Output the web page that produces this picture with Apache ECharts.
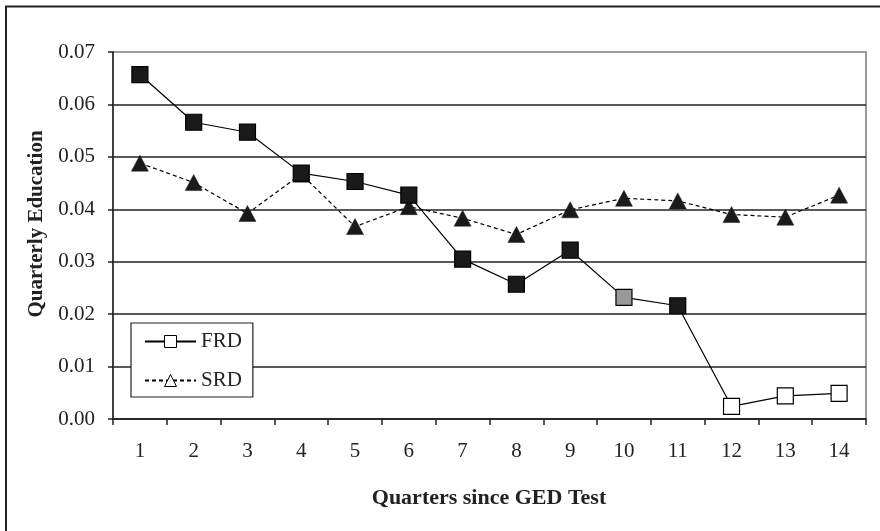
<!DOCTYPE html>
<html>
<head>
<meta charset="utf-8">
<title>Quarterly Education since GED Test</title>
<script src="https://cdn.jsdelivr.net/npm/echarts@6/dist/echarts.min.js"></script>
<style>
  html, body { margin: 0; padding: 0; background: #fff; }
  #chart { width: 880px; height: 531px; }
</style>
</head>
<body>
<div id="chart"></div>
<script>
// Quarters after the GED test
const quarters = ['1', '2', '3', '4', '5', '6', '7', '8', '9', '10', '11', '12', '13', '14'];

// Quarterly education, FRD estimates
const frdValues = [0.0657, 0.0566, 0.0547, 0.0469, 0.0453, 0.0427, 0.0305, 0.0257, 0.0322, 0.0232, 0.0216, 0.0024, 0.0044, 0.0049];

// Quarterly education, SRD estimates
const srdValues = [0.0488, 0.0451, 0.0392, 0.0467, 0.0367, 0.0405, 0.0383, 0.0352, 0.0399, 0.0421, 0.0416, 0.0390, 0.0385, 0.0427];

const serif = '"Liberation Serif", "Times New Roman", serif';
const ink = '#1a1a1a';

// FRD marker fills: solid, grey for quarter 10, hollow from quarter 12 on
function frdFill(i) {
  if (i === 9) return '#999999';
  if (i >= 11) return '#ffffff';
  return ink;
}

const chart = echarts.init(document.getElementById('chart'), null, { renderer: 'canvas' });

chart.setOption({
  animation: false,
  backgroundColor: '#fff',
  grid: {
    left: 113, right: 14, top: 52, bottom: 112,
    show: true, borderColor: '#9a9a9a', borderWidth: 2, backgroundColor: 'transparent'
  },
  xAxis: {
    type: 'category',
    data: quarters,
    boundaryGap: true,
    axisLine: { lineStyle: { color: '#222', width: 1.5 } },
    axisTick: { show: true, inside: false, length: 6, alignWithLabel: false, lineStyle: { color: '#222', width: 1.5 } },
    axisLabel: { color: '#222', fontFamily: serif, fontSize: 21, margin: 22 },
    splitLine: { show: false }
  },
  yAxis: {
    type: 'value',
    min: 0, max: 0.07, interval: 0.01,
    axisLine: { show: true, lineStyle: { color: '#222', width: 1.5 } },
    axisTick: { show: true, inside: false, length: 5, lineStyle: { color: '#222', width: 1.5 } },
    axisLabel: {
      color: '#222', fontFamily: serif, fontSize: 21, margin: 18,
      formatter: v => v.toFixed(2)
    },
    splitLine: {
      show: true,
      lineStyle: { color: ['#222', '#222', '#222', '#222', '#222', '#222', '#222', '#9a9a9a'], width: 1.5 }
    }
  },
  legend: {
    orient: 'vertical',
    left: 131, top: 323,
    padding: [8, 11, 6, 13],
    itemGap: 18,
    itemWidth: 51,
    itemHeight: 15,
    backgroundColor: '#fff',
    borderColor: '#222',
    borderWidth: 1.2,
    borderRadius: 0,
    textStyle: { color: '#222', fontFamily: serif, fontSize: 21 },
    data: [
      { name: 'FRD', itemStyle: { color: '#fff', borderColor: '#000', borderWidth: 1 } },
      { name: 'SRD', itemStyle: { color: '#fff', borderColor: '#000', borderWidth: 1 } }
    ]
  },
  graphic: [
    {
      type: 'rect', silent: true, z: 0,
      shape: { x: 6, y: 6.5, width: 900, height: 600 },
      style: { fill: 'none', stroke: '#222', lineWidth: 2 }
    },
    {
      type: 'text', silent: true,
      x: 37, y: 224, rotation: Math.PI / 2,
      style: {
        text: 'Quarterly Education', fill: '#222',
        font: 'bold 21px ' + serif, align: 'center', verticalAlign: 'middle'
      }
    },
    {
      type: 'text', silent: true,
      x: 489, y: 498,
      style: {
        text: 'Quarters since GED Test', fill: '#222',
        font: 'bold 22px ' + serif, align: 'center', verticalAlign: 'middle'
      }
    }
  ],
  series: [
    {
      name: 'SRD',
      type: 'line',
      z: 2,
      data: srdValues,
      symbol: 'triangle',
      symbolSize: [17, 16],
      color: ink,
      lineStyle: { color: '#000', width: 1.2, type: [4, 3] },
      itemStyle: { color: ink, borderColor: ink, borderWidth: 0.5 }
    },
    {
      name: 'FRD',
      type: 'line',
      z: 3,
      data: frdValues.map((v, i) => ({
        value: v,
        itemStyle: { color: frdFill(i), borderColor: '#000', borderWidth: 1.2 }
      })),
      symbol: 'rect',
      symbolSize: 16,
      color: ink,
      lineStyle: { color: '#000', width: 1.2, type: 'solid' }
    }
  ]
});
</script>
</body>
</html>
